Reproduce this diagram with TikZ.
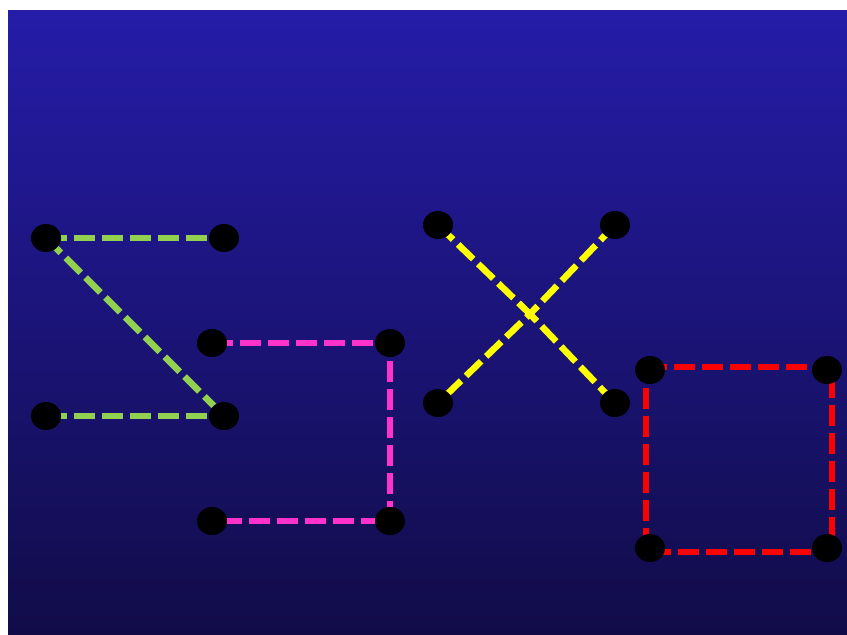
\documentclass[tikz,border=0pt]{standalone}
\usetikzlibrary{shapes.geometric}
\definecolor{bgtop}{RGB}{37,28,168}
\definecolor{bgbot}{RGB}{17,12,72}
\definecolor{lgreen}{RGB}{146,208,80}
\definecolor{lmag}{RGB}{255,51,204}
\definecolor{lyel}{RGB}{255,255,0}
\definecolor{lred}{RGB}{255,0,0}
\tikzset{
  dot/.style={ellipse,fill=black,minimum width=30pt,minimum height=28pt,inner sep=0pt},
  link/.style={line width=6.5pt,dash pattern=on 21pt off 7pt}
}
\begin{document}
\begin{tikzpicture}[x=1pt,y=-1pt]
\useasboundingbox (0,0) rectangle (847,635);
\fill[white] (0,0) rectangle (847,635);
\shade[top color=bgtop,bottom color=bgbot] (8,10) rectangle (847,635);
% green
\coordinate (g1) at (46,238);
\coordinate (g2) at (224,238);
\coordinate (g3) at (46,416);
\coordinate (g4) at (224,416);
\draw[link,lgreen] (g1) -- (g2);
\draw[link,lgreen] (g1) -- (g4);
\draw[link,lgreen] (g3) -- (g4);
% magenta
\coordinate (m1) at (212,343);
\coordinate (m2) at (390,343);
\coordinate (m3) at (212,521);
\coordinate (m4) at (390,521);
\draw[link,lmag] (m1) -- (m2) -- (m4) -- (m3);
% yellow
\coordinate (y1) at (438,225);
\coordinate (y2) at (615,225);
\coordinate (y3) at (438,403);
\coordinate (y4) at (615,403);
\coordinate (yc) at (530,314);
\draw[link,lyel] (y1) -- (yc) -- (y3);
\draw[link,lyel] (y2) -- (yc) -- (y4);
% red
\coordinate (r1) at (650,370);
\coordinate (r2) at (827,370);
\coordinate (r3) at (650,548);
\coordinate (r4) at (827,548);
\draw[link,lred] ([xshift=-4pt,yshift=3pt]r1) -- ([xshift=5pt,yshift=3pt]r2) -- ([xshift=5pt,yshift=-4pt]r4) -- ([xshift=-4pt,yshift=-4pt]r3) -- cycle;
% nodes
\foreach \n in {g1,g2,g3,g4,m1,m2,m3,m4,y1,y2,y3,y4,r1,r2,r3,r4}
  \node[dot] (n\n) at (\n) {};
\end{tikzpicture}
\end{document}
